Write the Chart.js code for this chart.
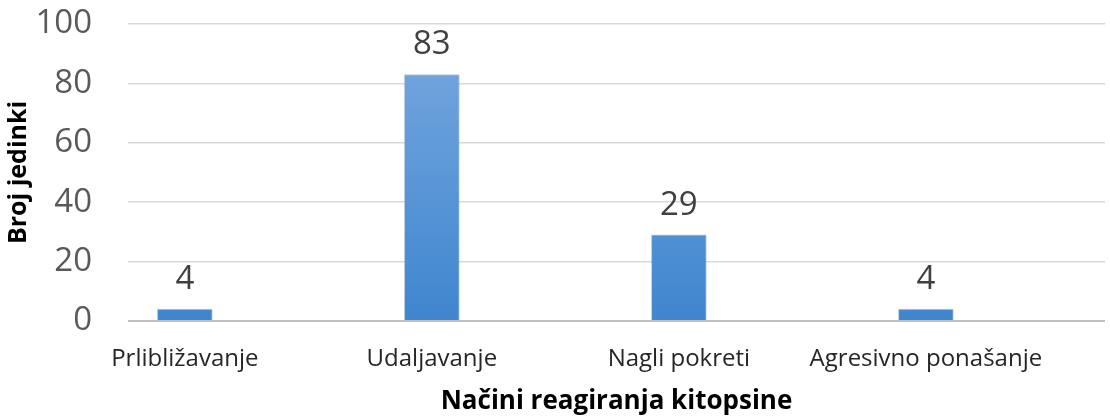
<!DOCTYPE html>
<html>
<head>
<meta charset="utf-8">
<script src="https://cdn.jsdelivr.net/npm/chart.js@4/dist/chart.umd.min.js"></script>
<style>
  html, body { margin: 0; padding: 0; background: #fff; }
  #wrap { width: 1110px; height: 417px; }
</style>
</head>
<body>
<div id="wrap"><canvas id="bar-chart" width="1110" height="417"></canvas></div>
<script>
// podaci s grafa
const categories = ['Prlibližavanje', 'Udaljavanje', 'Nagli pokreti', 'Agresivno ponašanje'];
const counts = [4, 83, 29, 4];
const yTicks = [0, 20, 40, 60, 80, 100];

const FONT = '"Open Sans", sans-serif';

// oznake vrijednosti iznad stupaca
const valueLabels = {
  id: 'valueLabels',
  afterDatasetsDraw(chart) {
    const ctx = chart.ctx;
    const meta = chart.getDatasetMeta(0);
    ctx.save();
    ctx.fillStyle = '#404040';
    ctx.font = '33px ' + FONT;
    ctx.textAlign = 'center';
    ctx.textBaseline = 'bottom';
    meta.data.forEach((bar, i) => {
      ctx.fillText(String(counts[i]), bar.x, bar.y - 13);
    });
    ctx.restore();
  }
};

const barFill = (context) => {
  const { chart } = context;
  const area = chart.chartArea;
  if (!area) return '#5b9bd5';
  const g = chart.ctx.createLinearGradient(0, area.top, 0, area.bottom);
  g.addColorStop(0, '#79a9e0');
  g.addColorStop(1, '#3f86cf');
  return g;
};

const ctx = document.getElementById('bar-chart');
new Chart(ctx, {
  type: 'bar',
  data: {
    datasets: [{
      data: counts.map((v, i) => ({ x: i, y: v })),
      backgroundColor: barFill,
      borderColor: 'rgba(60,110,170,0.35)',
      borderWidth: 1,
      barThickness: 55
    }]
  },
  plugins: [valueLabels],
  options: {
    responsive: false,
    animation: false,
    layout: { padding: { top: 24, right: 5, left: 0, bottom: 0 } },
    plugins: {
      legend: { display: false },
      tooltip: { enabled: false }
    },
    scales: {
      x: {
        type: 'linear',
        offset: false,
        min: -0.23,
        max: 3.725,
        grid: { display: false },
        border: { display: false },
        afterBuildTicks: (scale) => {
          scale.ticks = categories.map((c, i) => ({ value: i }));
        },
        afterFit: (scale) => { scale.height = 96; },
        ticks: {
          padding: 16,
          color: '#262626',
          font: { size: 24, family: FONT },
          maxRotation: 0,
          autoSkip: false,
          callback: (v) => categories[v] ?? ''
        },
        title: {
          display: true,
          text: 'Načini reagiranja kitopsine',
          color: '#000',
          font: { size: 26, weight: 'bold', family: FONT },
          padding: { top: 0, bottom: 0 }
        }
      },
      y: {
        min: 0,
        max: 100,
        afterBuildTicks: (scale) => {
          scale.ticks = yTicks.map(v => ({ value: v }));
        },
        afterFit: (scale) => {
          scale.width = 128;
          scale.paddingTop = 0;
          scale.paddingBottom = 0;
        },
        grid: {
          color: (c) => c.tick && c.tick.value === 0 ? '#bfbfbf' : '#d9d9d9',
          lineWidth: (c) => c.tick && c.tick.value === 0 ? 2 : 1.5,
          drawTicks: false
        },
        border: { display: false },
        ticks: {
          padding: 36,
          color: '#595959',
          font: { size: 33, family: FONT }
        },
        title: {
          display: true,
          text: 'Broj jedinki',
          color: '#000',
          font: { size: 25, weight: 'bold', family: FONT },
          padding: { top: 4, bottom: 0 }
        }
      }
    }
  }
});
</script>
</body>
</html>
